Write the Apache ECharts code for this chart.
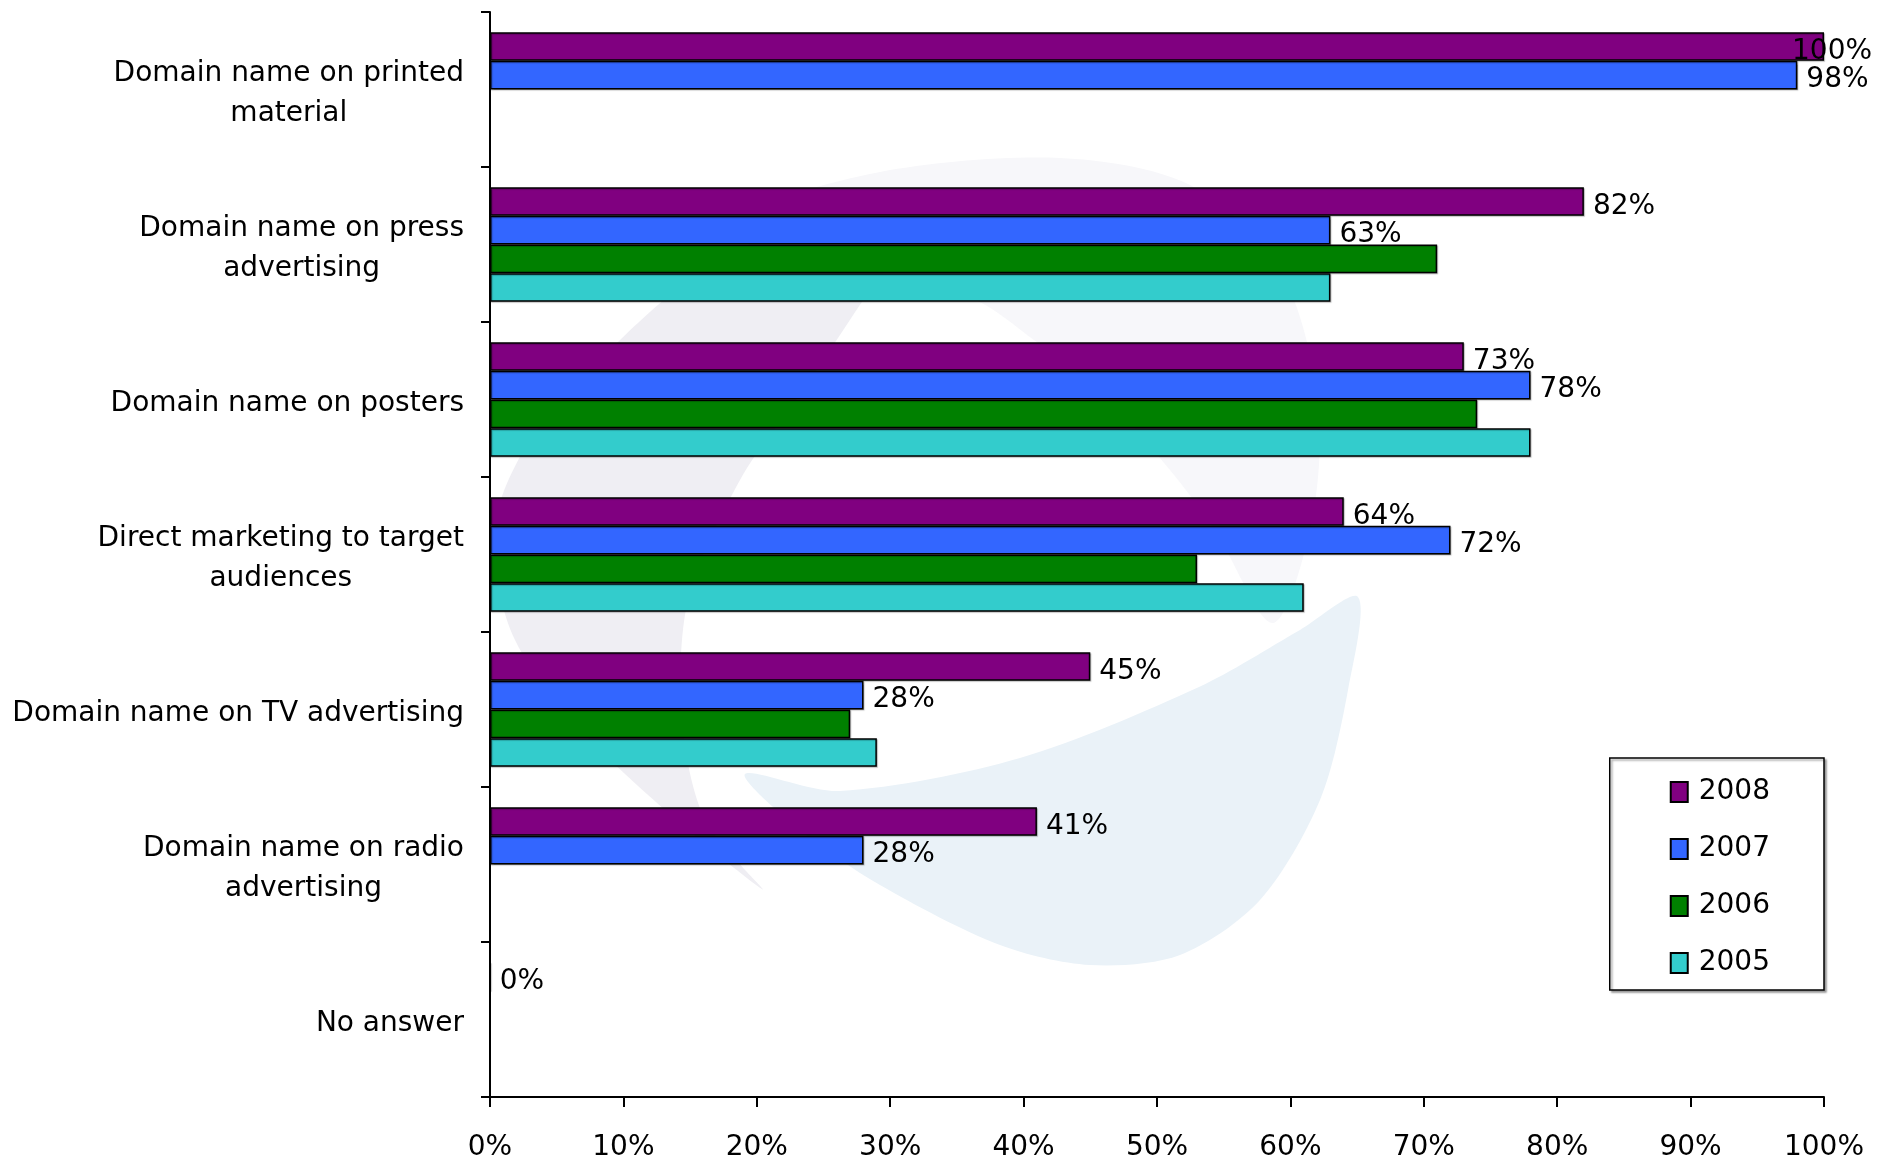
<!DOCTYPE html>
<html><head><meta charset="utf-8">
<script src="https://cdn.jsdelivr.net/npm/echarts@6/dist/echarts.min.js"></script>
<style>html,body{margin:0;padding:0;background:#fff}#chart{width:1890px;height:1162px}</style>
</head><body><div id="chart"></div>
<script>
const categories = [
  'Domain name on printed\nmaterial',
  'Domain name on press\nadvertising',
  'Domain name on posters',
  'Direct marketing to target\naudiences',
  'Domain name on TV advertising',
  'Domain name on radio\nadvertising',
  'No answer'
];
const seriesNames = ['2008', '2007', '2006', '2005'];
const values2008 = [100, 82, 73, 64, 45, 41, 0];
const values2007 = [98, 63, 78, 72, 28, 28, null];
const values2006 = [null, 71, 74, 53, 27, null, null];
const values2005 = [null, 63, 78, 61, 29, null, null];
const xTickValues = [0, 10, 20, 30, 40, 50, 60, 70, 80, 90, 100];

const colors = ['#800080', '#3366FF', '#008000', '#33CCCC'];
const labelled = [true, true, false, false];
const FONT = 'DejaVu Sans';
const FS = 28;

const allValues = [values2008, values2007, values2006, values2005];
const series = allValues.map((vals, i) => ({
  name: seriesNames[i],
  type: 'bar',
  barGap: '0%',
  barCategoryGap: '26%',
  z: 5,
  data: vals.map(v => (v !== null && v >= 100) ? { value: v, label: { offset: [-41, 5] } } : v),
  itemStyle: { color: colors[i], borderColor: '#000', borderWidth: 1.5,
    shadowColor: 'rgba(0,0,0,0.25)', shadowOffsetX: 1, shadowOffsetY: 1, shadowBlur: 1 },
  label: {
    show: labelled[i], position: 'right', distance: 9, offset: [0, 5],
    formatter: p => (p.value === null || p.value === undefined) ? '' : p.value + '%',
    color: '#000', fontFamily: FONT, fontSize: FS
  },
  emphasis: { disabled: true }
}));

// faint background logo watermark (decoration only)
const watermark = [
  { type: 'polygon', z: -10, silent: true,
    shape: { smooth: 0.3, points: [[760,215],[880,172],[1060,158],[1190,185],[1280,270],[1318,400],[1312,520],[1273,623],[1215,530],[1170,470],[1100,390],[1034,340],[975,300],[880,280]] },
    style: { fill: '#f7f7fa' } },
  { type: 'polygon', z: -9, silent: true,
    shape: { smooth: 0.3, points: [[930,205],[800,222],[690,280],[610,350],[530,440],[494,530],[515,640],[600,750],[762,889],[705,820],[682,720],[688,600],[740,480],[810,380],[870,290]] },
    style: { fill: '#efeef3' } },
  { type: 'polygon', z: -8, silent: true,
    shape: { smooth: 0.3, points: [[1358,597],[1348,690],[1320,800],[1260,900],[1180,955],[1090,965],[1000,945],[880,885],[800,830],[745,774],[840,791],[1020,758],[1199,687],[1300,630]] },
    style: { fill: '#eaf2f8' } }
];

const chart = echarts.init(document.getElementById('chart'), null, { renderer: 'canvas' });
chart.setOption({
  animation: false,
  backgroundColor: '#fff',
  textStyle: { fontFamily: FONT },
  graphic: { elements: watermark },
  grid: { left: 490, right: 66, top: 12, bottom: 64, containLabel: false },
  legend: {
    orient: 'vertical',
    right: 66, top: 758,
    data: seriesNames,
    icon: 'rect',
    itemWidth: 17, itemHeight: 20,
    itemGap: 29,
    padding: [20, 54, 13, 60],
    borderColor: '#000', borderWidth: 1.5,
    shadowColor: 'rgba(0,0,0,0.35)', shadowOffsetX: 2, shadowOffsetY: 2, shadowBlur: 2,
    backgroundColor: '#fff',
    textStyle: { fontFamily: FONT, fontSize: FS, color: '#000', padding: [0, 0, 0, 6] }
  },
  xAxis: {
    type: 'value', min: 0, max: 100, interval: 10,
    axisLine: { show: true, lineStyle: { color: '#000', width: 2 } },
    axisTick: { show: true, length: 10, lineStyle: { color: '#000', width: 2 } },
    splitLine: { show: false },
    axisLabel: {
      margin: 37, color: '#000', fontFamily: FONT, fontSize: FS,
      formatter: v => xTickValues.includes(v) ? v + '%' : ''
    }
  },
  yAxis: {
    type: 'category', inverse: true, data: categories,
    axisLine: { show: true, lineStyle: { color: '#000', width: 2 } },
    axisTick: { show: true, length: 9, lineStyle: { color: '#000', width: 2 } },
    axisLabel: {
      margin: 26, color: '#000', fontFamily: FONT, fontSize: FS, lineHeight: 40,
      padding: [8, 0, 0, 0],
      formatter: v => v.split('\n').map(s => '{c|' + s + '}').join('\n'),
      rich: { c: { align: 'center', fontFamily: FONT, fontSize: FS, lineHeight: 40, color: '#000' } }
    }
  },
  series: series
});
</script></body></html>
